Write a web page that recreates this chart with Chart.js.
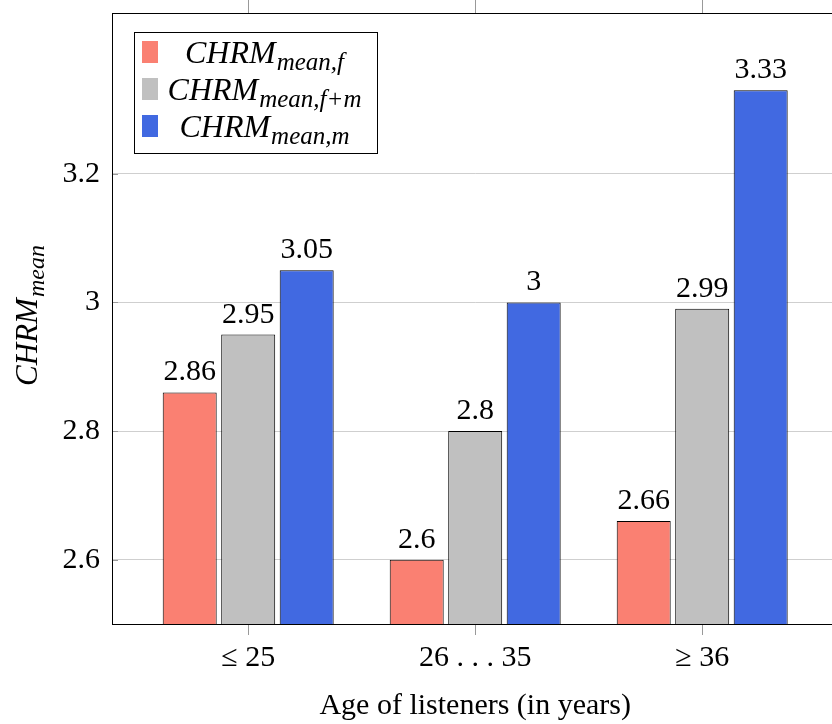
<!DOCTYPE html>
<html>
<head>
<meta charset="utf-8">
<script src="https://cdn.jsdelivr.net/npm/chart.js@4/dist/chart.umd.min.js"></script>
<style>
  html, body { margin: 0; padding: 0; background: #fff; overflow: hidden; }
  #wrap { width: 832px; height: 724px; overflow: hidden; }
</style>
</head>
<body>
<div id="wrap"><canvas id="grafico" width="850" height="724"></canvas></div>
<script>
// datos
const grupos = ['\u2264 25', '26 . . . 35', '\u2265 36'];
const valoresF = [2.86, 2.6, 2.66];
const valoresFM = [2.95, 2.8, 2.99];
const valoresM = [3.05, 3, 3.33];
const ticksY = [2.6, 2.8, 3.0, 3.2];
const leyenda = [
    { sub: 'mean,f', color: 'rgb(250,128,114)' },
    { sub: 'mean,f+m', color: 'rgb(192,192,192)' },
    { sub: 'mean,m', color: 'rgb(65,105,225)' }
];

const serif = '"Liberation Serif", "Times New Roman", serif';

const puntos = (arr) => arr.map((v, i) => ({ x: i, y: v }));

// texto con subindice
function textoSub(ctx, main, sub, x, y, size, subSize, align) {
    ctx.font = 'italic ' + size + 'px ' + serif;
    const w1 = ctx.measureText(main).width;
    ctx.font = 'italic ' + subSize + 'px ' + serif;
    const w2 = ctx.measureText(sub).width;
    let x0 = x;
    if (align === 'center') x0 = x - (w1 + w2) / 2;
    ctx.textAlign = 'left';
    ctx.textBaseline = 'alphabetic';
    ctx.font = 'italic ' + size + 'px ' + serif;
    ctx.fillText(main, x0, y);
    ctx.font = 'italic ' + subSize + 'px ' + serif;
    ctx.fillText(sub, x0 + w1 + 1, y + 7);
}

const extras = {
    id: 'extras',
    afterDatasetsDraw(chart) {
        const ctx = chart.ctx;
        const area = chart.chartArea;
        const xs = chart.scales.x;
        const ys = chart.scales.y;
        ctx.save();
        // etiquetas de valor
        ctx.fillStyle = '#000';
        ctx.font = '30px ' + serif;
        ctx.textAlign = 'center';
        ctx.textBaseline = 'alphabetic';
        chart.data.datasets.forEach((ds, i) => {
            chart.getDatasetMeta(i).data.forEach((bar, j) => {
                ctx.fillText(String(ds.data[j].y), bar.x, bar.y - 12);
            });
        });
        // marcas de ejes
        ctx.strokeStyle = '#999';
        ctx.lineWidth = 1;
        [0, 1, 2].forEach(v => {
            const px = Math.round(xs.getPixelForValue(v)) + 0.5;
            ctx.beginPath();
            ctx.moveTo(px, area.top - 13); ctx.lineTo(px, area.top);
            ctx.moveTo(px, area.bottom); ctx.lineTo(px, area.bottom + 11);
            ctx.stroke();
        });
        ticksY.forEach(v => {
            const py = Math.round(ys.getPixelForValue(v)) + 0.5;
            ctx.beginPath();
            ctx.moveTo(area.left, py); ctx.lineTo(area.left + 6, py);
            ctx.moveTo(area.right - 6, py); ctx.lineTo(area.right, py);
            ctx.stroke();
        });
        // marco
        ctx.strokeStyle = '#000';
        ctx.strokeRect(Math.round(area.left) + 0.5, Math.round(area.top) + 0.5,
            Math.round(area.right - area.left), Math.round(area.bottom - area.top));
        // titulo eje y
        ctx.fillStyle = '#000';
        ctx.translate(37, 316);
        ctx.rotate(-Math.PI / 2);
        textoSub(ctx, 'CHRM', 'mean', 0, 0, 31, 24, 'center');
        ctx.restore();

        // leyenda
        ctx.save();
        ctx.fillStyle = '#fff';
        ctx.fillRect(134, 32, 243, 121);
        ctx.strokeStyle = '#000';
        ctx.lineWidth = 1;
        ctx.strokeRect(134.5, 32.5, 243, 121);
        leyenda.forEach((e, i) => {
            const cy = 52 + i * 37;
            ctx.fillStyle = e.color;
            ctx.fillRect(142, cy - 11, 16, 22);
            ctx.fillStyle = '#000';
            textoSub(ctx, 'CHRM', e.sub, 264, cy + 11, 32, 25, 'center');
        });
        ctx.restore();
    }
};

const grafico = document.getElementById('grafico').getContext('2d');

window.graficaCHRM = new Chart(grafico, {
    type: 'bar',
    data: {
        datasets: [
            { label: 'f', data: puntos(valoresF), backgroundColor: leyenda[0].color },
            { label: 'f+m', data: puntos(valoresFM), backgroundColor: leyenda[1].color },
            { label: 'm', data: puntos(valoresM), backgroundColor: leyenda[2].color }
        ].map(d => Object.assign(d, {
            borderColor: '#000',
            borderWidth: 1,
            borderSkipped: false,
            categoryPercentage: 0.773,
            barPercentage: 0.923
        }))
    },
    options: {
        responsive: false,
        animation: false,
        layout: { padding: { left: 0, top: 13, right: 11.6, bottom: 0 } },
        plugins: { legend: { display: false }, tooltip: { enabled: false } },
        scales: {
            x: {
                type: 'linear',
                offset: false,
                min: -0.6,
                max: 2.6,
                grid: { display: false, drawTicks: false },
                border: { display: false },
                afterBuildTicks: (s) => { s.ticks = [0, 1, 2].map(v => ({ value: v })); },
                afterFit: (s) => { s.height = 100; s.paddingLeft = 0; s.paddingRight = 0; },
                ticks: {
                    padding: 16,
                    color: '#000',
                    font: { family: serif, size: 30 },
                    callback: (v) => grupos[v]
                },
                title: {
                    display: true,
                    text: 'Age of listeners (in years)',
                    color: '#000',
                    font: { family: serif, size: 30 },
                    padding: { top: 0, bottom: 0 }
                }
            },
            y: {
                min: 2.5,
                max: 3.45,
                grid: { color: '#cfcfcf', drawTicks: false },
                border: { display: false },
                afterBuildTicks: (s) => { s.ticks = ticksY.map(v => ({ value: v })); },
                afterFit: (s) => { s.width = 112; s.paddingTop = 0; s.paddingBottom = 0; },
                ticks: {
                    padding: 12,
                    color: '#000',
                    font: { family: serif, size: 30 },
                    callback: (v) => String(Math.round(v * 10) / 10)
                }
            }
        }
    },
    plugins: [extras]
});
</script>
</body>
</html>
